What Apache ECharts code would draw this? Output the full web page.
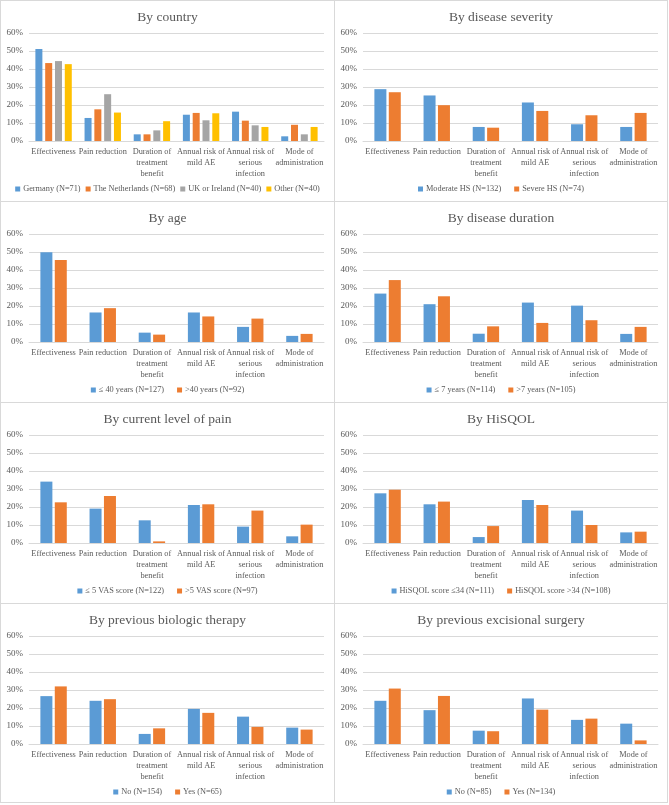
<!DOCTYPE html>
<html>
<head>
<meta charset="utf-8">
<script src="https://cdn.jsdelivr.net/npm/echarts@6/dist/echarts.min.js"></script>
<style>
  html, body { margin: 0; padding: 0; background: #fff; }
  #wrap { position: relative; width: 669px; height: 805px; }
  .panel { position: absolute; box-shadow: inset 0 0 0 1px #D9D9D9; }
</style>
</head>
<body>
<div id="wrap"></div>
<script>
// ---------- DATA ----------
const categories = ['Effectiveness', 'Pain reduction', 'Duration of\ntreatment\nbenefit',
  'Annual risk of\nmild AE', 'Annual risk of\nserious\ninfection', 'Mode of\nadministration'];
const yTickMax = 60;
const yTickStep = 10;

// By country
const countryNames = ['Germany (N=71)', 'The Netherlands (N=68)', 'UK or Ireland (N=40)', 'Other (N=40)'];
const countryGermany = [51.1, 12.8, 3.7, 14.6, 16.3, 2.6];
const countryNetherlands = [43.3, 17.6, 3.7, 15.6, 11.3, 9.0];
const countryUK = [44.4, 26.0, 5.9, 11.5, 8.7, 3.7];
const countryOther = [42.7, 15.8, 11.0, 15.4, 7.8, 7.8];

// By disease severity
const severityNames = ['Moderate HS (N=132)', 'Severe HS (N=74)'];
const severityModerate = [28.8, 25.3, 7.8, 21.4, 9.3, 7.8];
const severitySevere = [27.1, 19.9, 7.4, 16.7, 14.3, 15.6];

// By age
const ageNames = ['≤ 40 years (N=127)', '>40 years (N=92)'];
const ageYoung = [49.9, 16.4, 5.2, 16.4, 8.4, 3.4];
const ageOld = [45.5, 18.8, 4.1, 14.2, 13.0, 4.5];

// By disease duration
const durationNames = ['≤ 7 years (N=114)', '>7 years (N=105)'];
const durationShort = [26.9, 21.0, 4.6, 21.9, 20.2, 4.5];
const durationLong = [34.4, 25.4, 8.7, 10.6, 12.1, 8.4];

// By current level of pain
const painNames = ['≤ 5 VAS score (N=122)', '>5 VAS score (N=97)'];
const painLow = [34.1, 19.1, 12.6, 21.1, 9.1, 3.7];
const painHigh = [22.6, 26.1, 0.9, 21.5, 18.0, 10.2];

// By HiSQOL
const hisqolNames = ['HiSQOL score ≤34 (N=111)', 'HiSQOL score >34 (N=108)'];
const hisqolLow = [27.6, 21.5, 3.3, 23.9, 18.0, 5.9];
const hisqolHigh = [29.6, 23.0, 9.4, 21.1, 10.0, 6.3];

// By previous biologic therapy
const biologicNames = ['No (N=154)', 'Yes (N=65)'];
const biologicNo = [26.6, 24.0, 5.6, 19.5, 15.2, 9.1];
const biologicYes = [32.0, 24.9, 8.7, 17.3, 9.5, 8.0];

// By previous excisional surgery
const surgeryNames = ['No (N=85)', 'Yes (N=134)'];
const surgeryNo = [24.0, 18.8, 7.4, 25.3, 13.4, 11.3];
const surgeryYes = [30.8, 26.7, 7.1, 19.1, 14.1, 2.0];

const panelTitles = ['By country', 'By disease severity', 'By age', 'By disease duration',
  'By current level of pain', 'By HiSQOL', 'By previous biologic therapy', 'By previous excisional surgery'];

// ---------- BUILD ----------
const palette = ['#5B9BD5', '#ED7D31', '#A5A5A5', '#FFC000'];
const panels = [
  { names: countryNames, values: [countryGermany, countryNetherlands, countryUK, countryOther] },
  { names: severityNames, values: [severityModerate, severitySevere] },
  { names: ageNames, values: [ageYoung, ageOld] },
  { names: durationNames, values: [durationShort, durationLong] },
  { names: painNames, values: [painLow, painHigh] },
  { names: hisqolNames, values: [hisqolLow, hisqolHigh] },
  { names: biologicNames, values: [biologicNo, biologicYes] },
  { names: surgeryNames, values: [surgeryNo, surgeryYes] }
];

const font = '"Liberation Serif", "Times New Roman", serif';
const textColor = '#595959';
const wrap = document.getElementById('wrap');
const rowTops = [0, 201, 402, 603];

panels.forEach((p, i) => {
  const col = i % 2, row = Math.floor(i / 2);
  const div = document.createElement('div');
  div.className = 'panel';
  const left = col === 0 ? 0 : 334;
  const width = col === 0 ? 335 : 334;
  const top = rowTops[row];
  const height = row === 3 ? 200 : 202;
  div.style.left = left + 'px';
  div.style.top = top + 'px';
  div.style.width = width + 'px';
  div.style.height = height + 'px';
  wrap.appendChild(div);
  const chart = echarts.init(div, null, { renderer: 'canvas' });
  const four = p.names.length === 4;
  const series = p.names.map((n, k) => ({
    name: n,
    type: 'bar',
    data: p.values[k],
    barWidth: four ? 7 : 12,
    barGap: four ? '40%' : '20%',
    itemStyle: { color: palette[k] },
    emphasis: { disabled: true },
    animation: false
  }));
  chart.setOption({
    animation: false,
    textStyle: { fontFamily: font },
    title: {
      text: panelTitles[i],
      left: 'center',
      top: 5,
      textStyle: { fontFamily: font, fontSize: 13.5, fontWeight: 'normal', color: textColor }
    },
    legend: {
      data: p.names,
      bottom: height - 198,
      left: 'center',
      icon: 'rect',
      itemWidth: 5,
      itemHeight: 5,
      itemGap: four ? 5 : 13,
      textStyle: { fontFamily: font, fontSize: 8.3, color: textColor, padding: [0, 0, 0, -2] }
    },
    grid: { left: 29, right: width - 324, top: 33, bottom: height - 141, containLabel: false },
    xAxis: {
      type: 'category',
      data: categories,
      axisLine: { lineStyle: { color: '#D9D9D9' } },
      axisTick: { show: false },
      axisLabel: {
        interval: 0,
        fontFamily: font,
        fontSize: 8.3,
        lineHeight: 11,
        color: textColor,
        margin: 5
      }
    },
    yAxis: {
      type: 'value',
      min: 0,
      max: yTickMax,
      interval: yTickStep,
      axisLine: { show: false },
      axisTick: { show: false },
      splitLine: { lineStyle: { color: '#D9D9D9' } },
      axisLabel: {
        formatter: '{value}%',
        fontFamily: font,
        fontSize: 9,
        color: textColor,
        margin: 6
      }
    },
    series: series
  });
});
</script>
</body>
</html>
